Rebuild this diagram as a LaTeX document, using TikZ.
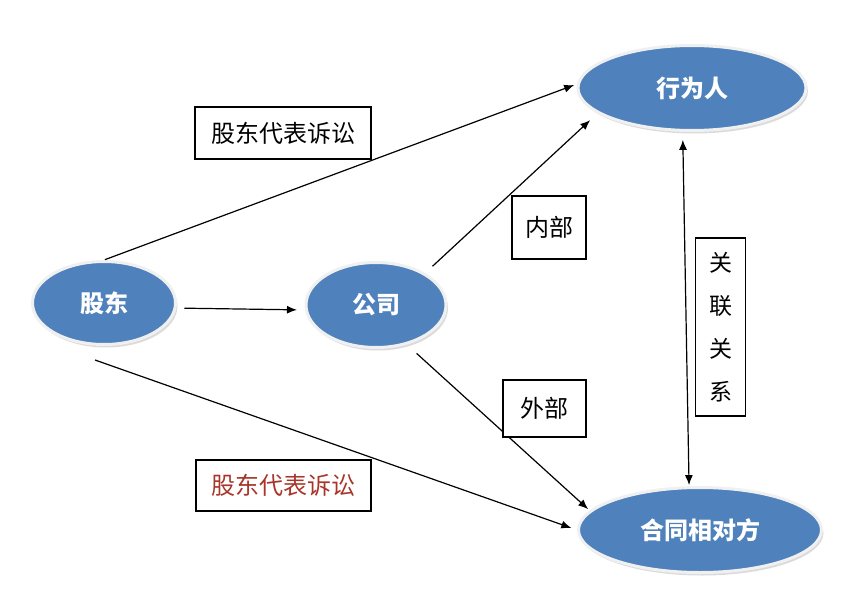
\documentclass[tikz,border=0pt]{standalone}
\usepackage{fontspec}
\setmainfont{Noto Sans CJK SC}
\usepackage{tikz}
\usetikzlibrary{shapes.geometric,shadows,arrows.meta,calc}

\definecolor{partyblue}{HTML}{4F81BD}
\definecolor{suitred}{HTML}{A8352A}

\tikzset{
  party/.style={ellipse, fill=partyblue, draw=gray!12, line width=3pt,
    drop shadow={shadow xshift=2pt, shadow yshift=-3pt, fill=gray!55},
    text=white, font=\fontsize{24}{24}\selectfont\bfseries, inner sep=0pt},
  tag/.style={draw=black, line width=1.5pt, fill=white, inner sep=0pt,
    font=\fontsize{24}{24}\selectfont},
  link/.style={line width=1.2pt, -{Latex[length=10pt,width=8pt]}}
}

\begin{document}
\begin{tikzpicture}[x=1pt,y=-1pt]
  \useasboundingbox (0,0) rectangle (847,613);
  \fill[white] (0,0) rectangle (847,613);

  % parties
  \node[party, minimum width=228pt, minimum height=85pt] (xingwei) at (692,88) {行为人};
  \node[party, minimum width=143pt, minimum height=83pt] (gudong) at (104,303) {股东};
  \node[party, minimum width=140pt, minimum height=85pt] (gongsi) at (376,305) {公司};
  \node[party, minimum width=243pt, minimum height=85pt] (hetong) at (700,530) {合同相对方};

  % relations
  \draw[link, shorten <=1pt, shorten >=3pt] (gudong.north) -- (xingwei.178);
  \draw[link, shorten <=8pt, shorten >=8pt] (gudong.-4) -- (gongsi.184);
  \draw[link, shorten <=10pt, shorten >=10pt] (gongsi.33) -- (xingwei.195);
  \draw[link, shorten <=13pt, shorten >=2pt] (gongsi.-52) -- (hetong.170);
  \draw[link, shorten >=6pt] ($(gudong.south)+(-9,14)$) -- (hetong.west);
  \draw[line width=1.2pt, {Latex[length=10pt,width=8pt]}-{Latex[length=10pt,width=8pt]},
    shorten <=8pt, shorten >=1pt] (xingwei.258) -- (hetong.104);

  % labels
  \node[tag, minimum width=176pt, minimum height=52pt] (suittop) at (283,133) {股东代表诉讼};
  \node[tag, minimum width=74pt, minimum height=63pt] (inner) at (549,227.5) {内部};
  \node[tag, minimum width=83pt, minimum height=57pt] (outer) at (544.5,408.5) {外部};
  \node[tag, minimum width=175pt, minimum height=51pt, text=suitred] (suitbottom) at (283.5,485.5) {股东代表诉讼};
  \node[tag, minimum width=50pt, minimum height=178pt, align=center,
    font=\fontsize{23}{43}\selectfont] (related) at (720.5,327) {关\\联\\关\\系};
\end{tikzpicture}
\end{document}
